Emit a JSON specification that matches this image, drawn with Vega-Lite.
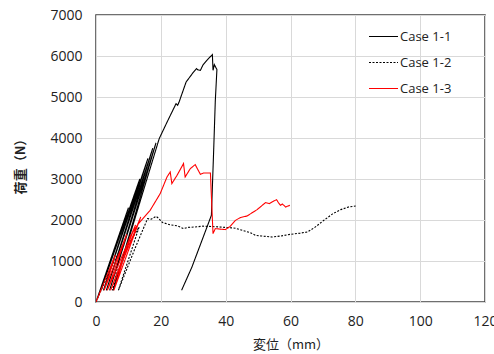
{
  "$schema": "https://vega.github.io/schema/vega-lite/v6.json",
  "width": 389,
  "height": 287,
  "autosize": "none",
  "padding": {"left": 96, "top": 15, "right": 9, "bottom": 52},
  "background": "white",
  "config": {
    "view": {"stroke": "#404040", "strokeWidth": 1.5},
    "axis": {
      "labelFont": "Open Sans",
      "labelFontSize": 14,
      "labelColor": "#222222",
      "labelFlush": false,
      "labelOverlap": false,
      "format": "d",
      "gridColor": "#d9d9d9",
      "gridWidth": 1,
      "ticks": false,
      "domain": false,
      "titleColor": "#222222"
    },
    "legend": {"labelFont": "Open Sans", "labelFontSize": 13, "labelColor": "#222222"}
  },
  "data": {
    "values": [
      {"s": "Case 1-1", "i": 1, "x": 0, "y": 0},
      {"s": "Case 1-1", "i": 2, "x": 10, "y": 2300},
      {"s": "Case 1-1", "i": 3, "x": 1.5, "y": 285},
      {"s": "Case 1-1", "i": 4, "x": 13.5, "y": 3000},
      {"s": "Case 1-1", "i": 5, "x": 2.3, "y": 285},
      {"s": "Case 1-1", "i": 6, "x": 16, "y": 3500},
      {"s": "Case 1-1", "i": 7, "x": 3.2, "y": 285},
      {"s": "Case 1-1", "i": 8, "x": 17.5, "y": 3750},
      {"s": "Case 1-1", "i": 9, "x": 4.2, "y": 285},
      {"s": "Case 1-1", "i": 10, "x": 18.5, "y": 3880},
      {"s": "Case 1-1", "i": 11, "x": 5.3, "y": 285},
      {"s": "Case 1-1", "i": 12, "x": 19.5, "y": 3985},
      {"s": "Case 1-1", "i": 13, "x": 22, "y": 4400},
      {"s": "Case 1-1", "i": 14, "x": 24.7, "y": 4839},
      {"s": "Case 1-1", "i": 15, "x": 25.2, "y": 4800},
      {"s": "Case 1-1", "i": 16, "x": 25.6, "y": 4870},
      {"s": "Case 1-1", "i": 17, "x": 27.8, "y": 5366},
      {"s": "Case 1-1", "i": 18, "x": 30, "y": 5600},
      {"s": "Case 1-1", "i": 19, "x": 31, "y": 5692},
      {"s": "Case 1-1", "i": 20, "x": 31.5, "y": 5660},
      {"s": "Case 1-1", "i": 21, "x": 32.2, "y": 5650},
      {"s": "Case 1-1", "i": 22, "x": 33, "y": 5780},
      {"s": "Case 1-1", "i": 23, "x": 34.2, "y": 5895},
      {"s": "Case 1-1", "i": 24, "x": 35.9, "y": 6034},
      {"s": "Case 1-1", "i": 25, "x": 36.1, "y": 5650},
      {"s": "Case 1-1", "i": 26, "x": 36.5, "y": 5790},
      {"s": "Case 1-1", "i": 27, "x": 37.3, "y": 5670},
      {"s": "Case 1-1", "i": 28, "x": 36.8, "y": 4900},
      {"s": "Case 1-1", "i": 29, "x": 36.3, "y": 3700},
      {"s": "Case 1-1", "i": 30, "x": 35.6, "y": 2115},
      {"s": "Case 1-1", "i": 31, "x": 32.7, "y": 1505},
      {"s": "Case 1-1", "i": 32, "x": 29.6, "y": 854},
      {"s": "Case 1-1", "i": 33, "x": 26.4, "y": 285},
      {"s": "Case 1-2", "i": 1, "x": 0, "y": 0},
      {"s": "Case 1-2", "i": 2, "x": 5, "y": 900},
      {"s": "Case 1-2", "i": 3, "x": 8, "y": 1350},
      {"s": "Case 1-2", "i": 4, "x": 5.1, "y": 285},
      {"s": "Case 1-2", "i": 5, "x": 10, "y": 1400},
      {"s": "Case 1-2", "i": 6, "x": 13.3, "y": 1830},
      {"s": "Case 1-2", "i": 7, "x": 6.9, "y": 285},
      {"s": "Case 1-2", "i": 8, "x": 12, "y": 1300},
      {"s": "Case 1-2", "i": 9, "x": 15.9, "y": 2034},
      {"s": "Case 1-2", "i": 10, "x": 17, "y": 2020},
      {"s": "Case 1-2", "i": 11, "x": 18.5, "y": 2090},
      {"s": "Case 1-2", "i": 12, "x": 19.2, "y": 2050},
      {"s": "Case 1-2", "i": 13, "x": 20.5, "y": 1940},
      {"s": "Case 1-2", "i": 14, "x": 23, "y": 1880},
      {"s": "Case 1-2", "i": 15, "x": 25, "y": 1860},
      {"s": "Case 1-2", "i": 16, "x": 27, "y": 1790},
      {"s": "Case 1-2", "i": 17, "x": 28.5, "y": 1820},
      {"s": "Case 1-2", "i": 18, "x": 30.5, "y": 1830},
      {"s": "Case 1-2", "i": 19, "x": 33, "y": 1850},
      {"s": "Case 1-2", "i": 20, "x": 36, "y": 1840},
      {"s": "Case 1-2", "i": 21, "x": 40, "y": 1820},
      {"s": "Case 1-2", "i": 22, "x": 43, "y": 1800},
      {"s": "Case 1-2", "i": 23, "x": 45.5, "y": 1740},
      {"s": "Case 1-2", "i": 24, "x": 47.6, "y": 1692},
      {"s": "Case 1-2", "i": 25, "x": 49.2, "y": 1627},
      {"s": "Case 1-2", "i": 26, "x": 51, "y": 1610},
      {"s": "Case 1-2", "i": 27, "x": 54.3, "y": 1585},
      {"s": "Case 1-2", "i": 28, "x": 57, "y": 1610},
      {"s": "Case 1-2", "i": 29, "x": 60, "y": 1651},
      {"s": "Case 1-2", "i": 30, "x": 63, "y": 1680},
      {"s": "Case 1-2", "i": 31, "x": 65.2, "y": 1707},
      {"s": "Case 1-2", "i": 32, "x": 67.5, "y": 1820},
      {"s": "Case 1-2", "i": 33, "x": 70.3, "y": 1993},
      {"s": "Case 1-2", "i": 34, "x": 73, "y": 2150},
      {"s": "Case 1-2", "i": 35, "x": 75.5, "y": 2253},
      {"s": "Case 1-2", "i": 36, "x": 78, "y": 2320},
      {"s": "Case 1-2", "i": 37, "x": 80.1, "y": 2341},
      {"s": "Case 1-3", "i": 1, "x": 0, "y": 0},
      {"s": "Case 1-3", "i": 2, "x": 6, "y": 1150},
      {"s": "Case 1-3", "i": 3, "x": 2.5, "y": 285},
      {"s": "Case 1-3", "i": 4, "x": 9.5, "y": 1650},
      {"s": "Case 1-3", "i": 5, "x": 3.5, "y": 285},
      {"s": "Case 1-3", "i": 6, "x": 12.2, "y": 1880},
      {"s": "Case 1-3", "i": 7, "x": 4.5, "y": 285},
      {"s": "Case 1-3", "i": 8, "x": 13.8, "y": 2073},
      {"s": "Case 1-3", "i": 9, "x": 5.5, "y": 285},
      {"s": "Case 1-3", "i": 10, "x": 10.5, "y": 1600},
      {"s": "Case 1-3", "i": 11, "x": 13, "y": 1900},
      {"s": "Case 1-3", "i": 12, "x": 16.7, "y": 2236},
      {"s": "Case 1-3", "i": 13, "x": 19.8, "y": 2643},
      {"s": "Case 1-3", "i": 14, "x": 21.9, "y": 3049},
      {"s": "Case 1-3", "i": 15, "x": 22.9, "y": 3171},
      {"s": "Case 1-3", "i": 16, "x": 23.4, "y": 2888},
      {"s": "Case 1-3", "i": 17, "x": 25, "y": 3090},
      {"s": "Case 1-3", "i": 18, "x": 27, "y": 3376},
      {"s": "Case 1-3", "i": 19, "x": 27.5, "y": 3049},
      {"s": "Case 1-3", "i": 20, "x": 29.1, "y": 3254},
      {"s": "Case 1-3", "i": 21, "x": 30.6, "y": 3351},
      {"s": "Case 1-3", "i": 22, "x": 32.2, "y": 3115},
      {"s": "Case 1-3", "i": 23, "x": 33.2, "y": 3146},
      {"s": "Case 1-3", "i": 24, "x": 35.3, "y": 3146},
      {"s": "Case 1-3", "i": 25, "x": 35.8, "y": 2200},
      {"s": "Case 1-3", "i": 26, "x": 36.1, "y": 1668},
      {"s": "Case 1-3", "i": 27, "x": 36.8, "y": 1790},
      {"s": "Case 1-3", "i": 28, "x": 39.9, "y": 1766},
      {"s": "Case 1-3", "i": 29, "x": 41.4, "y": 1846},
      {"s": "Case 1-3", "i": 30, "x": 43, "y": 1990},
      {"s": "Case 1-3", "i": 31, "x": 44.5, "y": 2058},
      {"s": "Case 1-3", "i": 32, "x": 46.6, "y": 2098},
      {"s": "Case 1-3", "i": 33, "x": 49.7, "y": 2253},
      {"s": "Case 1-3", "i": 34, "x": 52.3, "y": 2424},
      {"s": "Case 1-3", "i": 35, "x": 53.5, "y": 2400},
      {"s": "Case 1-3", "i": 36, "x": 54.3, "y": 2439},
      {"s": "Case 1-3", "i": 37, "x": 55.7, "y": 2497},
      {"s": "Case 1-3", "i": 38, "x": 56.3, "y": 2420},
      {"s": "Case 1-3", "i": 39, "x": 56.9, "y": 2358},
      {"s": "Case 1-3", "i": 40, "x": 57.5, "y": 2390},
      {"s": "Case 1-3", "i": 41, "x": 58.5, "y": 2317},
      {"s": "Case 1-3", "i": 42, "x": 59.8, "y": 2358}
    ]
  },
  "mark": {"type": "line", "strokeWidth": 1.1, "clip": true},
  "encoding": {
    "x": {
      "field": "x", "type": "quantitative",
      "scale": {"domain": [0, 120], "nice": false},
      "axis": {
        "values": [0, 20, 40, 60, 80, 100, 120],
        "labelPadding": 12,
        "title": "変位（mm）",
        "titleFont": "Noto Sans CJK JP",
        "titleFontSize": 13,
        "titleFontWeight": "normal",
        "titleY": 42,
        "titleBaseline": "middle"
      }
    },
    "y": {
      "field": "y", "type": "quantitative",
      "scale": {"domain": [0, 7000], "nice": false},
      "axis": {
        "values": [0, 1000, 2000, 3000, 4000, 5000, 6000, 7000],
        "labelPadding": 14,
        "title": "荷重（N）",
        "titleFont": "Noto Sans CJK JP",
        "titleFontSize": 13,
        "titleFontWeight": "bold",
        "titleX": -76,
        "titleY": 148,
        "titleAngle": -90,
        "titleAlign": "center",
        "titleBaseline": "middle"
      }
    },
    "order": {"field": "i", "type": "quantitative"},
    "color": {
      "field": "s", "type": "nominal",
      "scale": {"domain": ["Case 1-1", "Case 1-2", "Case 1-3"], "range": ["#000000", "#000000", "#ff0000"]},
      "legend": {
        "title": null,
        "orient": "none",
        "legendX": 272,
        "legendY": 6,
        "padding": 0,
        "symbolType": "stroke",
        "symbolSize": 841,
        "symbolStrokeWidth": 1.2,
        "labelOffset": 1,
        "rowPadding": 3
      }
    },
    "strokeDash": {
      "field": "s", "type": "nominal",
      "scale": {"domain": ["Case 1-1", "Case 1-2", "Case 1-3"], "range": [[1, 0], [2, 1.5], [1, 0]]},
      "legend": {
        "title": null,
        "orient": "none",
        "legendX": 272,
        "legendY": 6,
        "padding": 0,
        "symbolType": "stroke",
        "symbolSize": 841,
        "symbolStrokeWidth": 1.2,
        "labelOffset": 1,
        "rowPadding": 3
      }
    }
  }
}
